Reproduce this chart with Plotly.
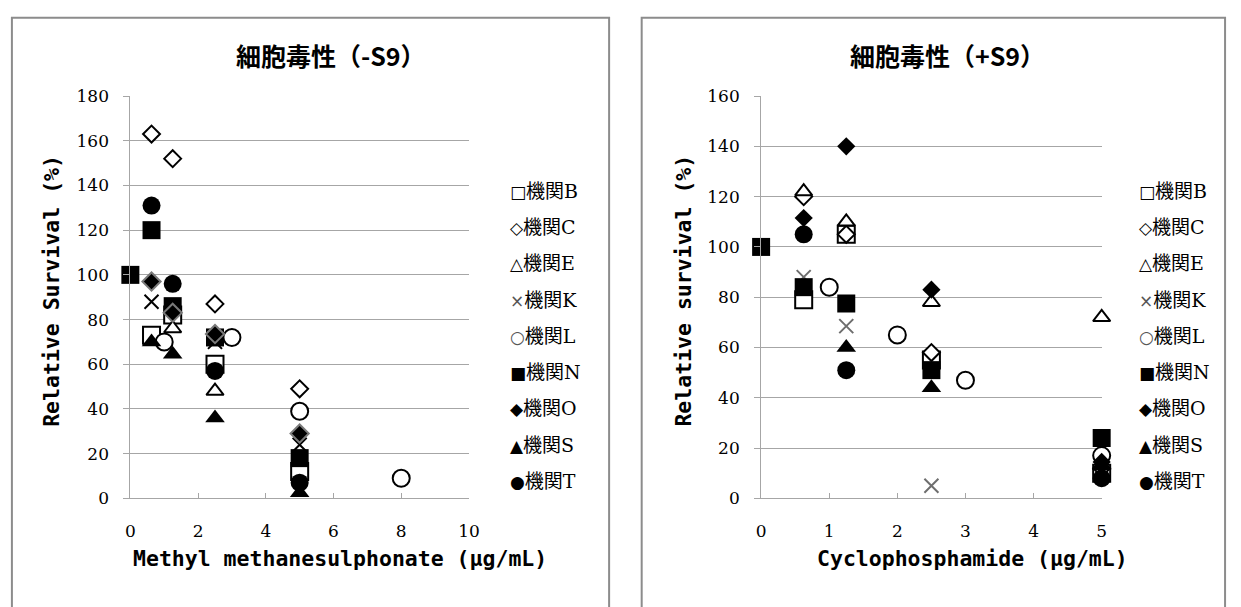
import plotly.graph_objects as go

W, H = 1241, 607

# ---- data: cytotoxicity (-S9), Methyl methanesulphonate ----
labs = ["B", "C", "E", "K", "L", "N", "O", "S", "T"]

mms_dose = {
    "B": [0.625, 1.25, 2.5, 5],
    "C": [0.625, 1.25, 2.5, 5],
    "E": [1.25, 2.5],
    "K": [0.625, 2.5, 5],
    "L": [1.0, 3.0, 5, 8],
    "N": [0, 0.625, 1.25, 2.5, 5],
    "O": [0.625, 1.25, 2.5, 5],
    "S": [0.625, 1.25, 2.5, 5],
    "T": [0.625, 1.25, 2.5, 5],
}
mms_surv = {
    "B": [73, 82, 60, 12],
    "C": [163, 152, 87, 49],
    "E": [76, 48],
    "K": [88, 70, 24],
    "L": [70, 72, 39, 9],
    "N": [100, 120, 86, 72, 18],
    "O": [97, 83, 73.5, 29],
    "S": [70, 64.5, 36, 2.5],
    "T": [131, 96, 57, 7],
}

# ---- data: cytotoxicity (+S9), Cyclophosphamide ----
cp_dose = {
    "B": [0.625, 1.25, 2.5, 5],
    "C": [0.625, 1.25, 2.5, 5],
    "E": [0.625, 1.25, 2.5, 5],
    "K": [0.625, 1.25, 2.5, 5],
    "L": [1.0, 2.0, 3.0, 5],
    "N": [0, 0.625, 1.25, 2.5, 5],
    "O": [0.625, 1.25, 2.5, 5],
    "S": [1.25, 2.5, 5],
    "T": [0.625, 1.25, 5],
}
cp_surv = {
    "B": [79, 105, 55, 10],
    "C": [120, 105, 58, 12],
    "E": [122, 110, 78, 72],
    "K": [88, 68.5, 5, 12],
    "L": [84, 65, 47, 17],
    "N": [100, 84, 77.5, 51, 24],
    "O": [111.5, 140, 83, 14.5],
    "S": [60, 44, 13],
    "T": [105, 51, 8],
}

legend_symbols = {"B": "□", "C": "◇", "E": "△", "K": "×", "L": "○",
                  "N": "■", "O": "◆", "S": "▲", "T": "●"}


def px(x):
    """pixel x -> paper fraction"""
    return x / W


def py(y):
    """pixel y (from top) -> paper fraction"""
    return 1 - y / H


def marker_style(lab, panel):
    black, white = "#000000", "#ffffff"
    styles = {
        "B": dict(symbol="square", size=17, color=white, line=dict(color=black, width=2)),
        "C": dict(symbol="diamond", size=13, color=white, line=dict(color=black, width=2)),
        "E": dict(symbol="triangle-up", size=15, color=white, line=dict(color=black, width=2)),
        "K": dict(symbol="x-thin", size=14, color=black,
                  line=dict(color=black if panel == 1 else "#6e6e6e", width=2)),
        "L": dict(symbol="circle", size=17, color=white, line=dict(color=black, width=2)),
        "N": dict(symbol="square", size=18, color=black, line=dict(color=black, width=0)),
        "O": dict(symbol="diamond", size=14, color=black,
                  line=dict(color="#7a7a7a" if panel == 1 else black, width=2 if panel == 1 else 0)),
        "S": dict(symbol="triangle-up", size=17, color=black, line=dict(color=black, width=0)),
        "T": dict(symbol="circle", size=18, color=black, line=dict(color=black, width=0)),
    }
    return styles[lab]


fig = go.Figure()

for lab in labs:
    fig.add_trace(go.Scatter(
        x=mms_dose[lab], y=mms_surv[lab], mode="markers", name="機関" + lab,
        marker=marker_style(lab, 1), xaxis="x", yaxis="y", showlegend=False,
        cliponaxis=False))
for lab in labs:
    fig.add_trace(go.Scatter(
        x=cp_dose[lab], y=cp_surv[lab], mode="markers", name="機関" + lab,
        marker=marker_style(lab, 2), xaxis="x2", yaxis="y2", showlegend=False,
        cliponaxis=False))

grid = "#a6a6a6"
tickfont = dict(family="DejaVu Serif", size=17, color="#000000")
ydom = [py(505), py(89)]

common_x = dict(showgrid=False, zeroline=False, showline=True, linecolor=grid, linewidth=1,
                ticks="inside", ticklen=5, tickcolor=grid, tickfont=tickfont,
                ticklabelstandoff=17)
common_y = dict(showgrid=True, gridcolor=grid, gridwidth=1, zeroline=False, showline=True,
                linecolor=grid, linewidth=1, ticks="outside", ticklen=6, tickcolor=grid,
                tickfont=tickfont, ticklabelstandoff=11)

fig.update_layout(
    width=W, height=H,
    margin=dict(l=0, r=0, t=0, b=0),
    paper_bgcolor="#ffffff", plot_bgcolor="#ffffff",
    xaxis=dict(domain=[px(127), px(470)], range=[0, 10], dtick=2, anchor="y", **common_x),
    yaxis=dict(domain=ydom, range=[0, 180], dtick=20, anchor="x", **common_y),
    xaxis2=dict(domain=[px(766), px(1111)], range=[0, 5], dtick=1, anchor="y2", **common_x),
    yaxis2=dict(domain=ydom, range=[0, 160], dtick=20, anchor="x2", **common_y),
    showlegend=False,
)

# panel frames
frame = dict(type="rect", xref="paper", yref="paper",
             line=dict(color="#8c8c8c", width=2), fillcolor="rgba(0,0,0,0)", layer="below")
fig.add_shape(x0=px(7), x1=px(612), y0=py(620), y1=py(8), **frame)
fig.add_shape(x0=px(645), x1=px(1236), y0=py(620), y1=py(8), **frame)

title_font = dict(family="Noto Sans CJK JP", size=25, color="#000000", weight="bold")
label_font = dict(family="DejaVu Sans Mono", size=21.5, color="#000000", weight="bold")

annotations = [
    dict(text="細胞毒性（-S9）", x=px(330), y=py(47), font=title_font),
    dict(text="細胞毒性（+S9）", x=px(955), y=py(47), font=title_font),
    dict(text="Methyl methanesulphonate (μg/mL)", x=px(339), y=py(567), font=label_font),
    dict(text="Cyclophosphamide (μg/mL)", x=px(980), y=py(567), font=label_font),
    dict(text="Relative Survival (%)", x=px(47), y=py(290), textangle=-90, font=label_font),
    dict(text="Relative survival (%)", x=px(687), y=py(290), textangle=-90, font=label_font),
]

legend_font = dict(family="DejaVu Serif, Noto Sans CJK JP", size=19, color="#000000")
for i, lab in enumerate(labs):
    yy = 187 + i * 37.5
    sym_color = "#555555" if lab in ("K", "L") else "#000000"
    text = (f'<span style="font-family:DejaVu Sans;font-size:17px;color:{sym_color}">'
            f'{legend_symbols[lab]}</span>機関{lab}')
    for x0 in (510, 1147):
        annotations.append(dict(text=text, x=px(x0), y=py(yy), xanchor="left",
                                font=legend_font))

for a in annotations:
    a.setdefault("xanchor", "center")
    a.update(xref="paper", yref="paper", yanchor="middle", showarrow=False)
fig.update_layout(annotations=annotations)

fig.write_html("out.html")
